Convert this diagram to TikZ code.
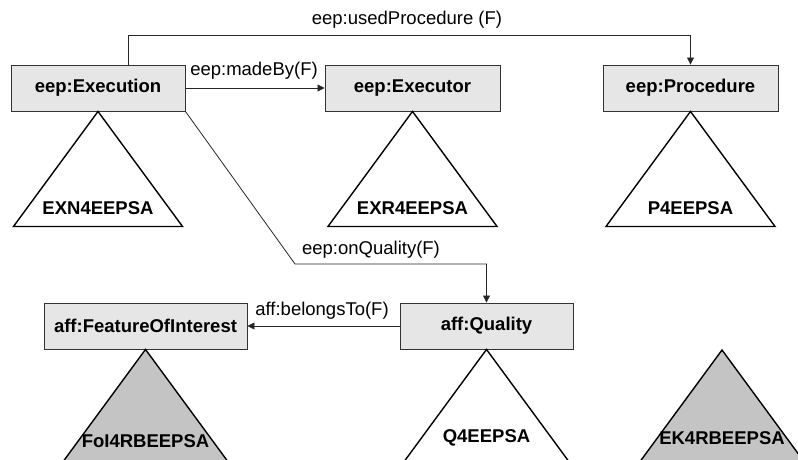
\documentclass[tikz,border=0pt]{standalone}
\usepackage{fontspec}
\setmainfont{Liberation Sans}
\usetikzlibrary{arrows.meta,calc}
\definecolor{boxfill}{HTML}{E6E6E6}
\definecolor{trifill}{HTML}{C4C4C4}

\begin{document}
\begin{tikzpicture}[x=1pt,y=-1pt,
  cls/.style={draw=black!80, line width=0.9pt, fill=boxfill, minimum height=46pt,
    inner sep=0pt, font=\fontsize{18.5}{22}\selectfont\bfseries},
  tri/.style={draw=black, line width=1.4pt, line join=miter},
  trilabel/.style={font=\fontsize{18.5}{22}\selectfont\bfseries, inner sep=0pt},
  rel/.style={draw=black!85, line width=0.8pt, -{Triangle[length=7pt,width=7pt]}},
  rellabel/.style={font=\fontsize{18.5}{22}\selectfont, inner sep=0pt}]

\useasboundingbox (0,0) rectangle (798,460);

% class boxes
\node[cls, minimum width=174pt] (exe)  at (98,88)    {eep:Execution};
\node[cls, minimum width=175pt] (exr)  at (412.5,88) {eep:Executor};
\node[cls, minimum width=175pt] (proc) at (690.5,88) {eep:Procedure};
\node[cls, minimum width=203pt] (foi)  at (145.5,326) {aff:FeatureOfInterest};
\node[cls, minimum width=173pt] (qual) at (486.5,326) {aff:Quality};
\coordinate (ekapex) at (722,350);

% module triangles hanging from the classes
\draw[tri, fill=white] (exe.south)  -- ++(-84.5,115) -- ++(169,0) -- cycle;
\draw[tri, fill=white] (exr.south)  -- ++(-84.5,115) -- ++(169,0) -- cycle;
\draw[tri, fill=white] (proc.south) -- ++(-84.5,115) -- ++(169,0) -- cycle;
\begin{scope}
  \clip (0,0) rectangle (798,460);
  \draw[tri, fill=trifill] (foi.south)  -- ++(-84.5,115) -- ++(169,0) -- cycle;
  \draw[tri, fill=white]   (qual.south) -- ++(-84.5,115) -- ++(169,0) -- cycle;
  \draw[tri, fill=trifill] (ekapex)     -- ++(-84.5,115) -- ++(169,0) -- cycle;
\end{scope}

\node[trilabel] (exnlab) at ($(exe.south)+(0,97)$)  {EXN4EEPSA};
\node[trilabel] (exrlab) at ($(exr.south)+(0,97)$)  {EXR4EEPSA};
\node[trilabel] (plab)   at ($(proc.south)+(0,97)$) {P4EEPSA};
\node[trilabel] (foilab) at ($(foi.south)+(0,92)$)  {FoI4RBEEPSA};
\node[trilabel] (qlab)   at ($(qual.south)+(0,88)$) {Q4EEPSA};
\node[trilabel] (eklab)  at ($(ekapex)+(0,88)$)     {EK4RBEEPSA};

% object properties
\draw[rel] ([xshift=30pt]exe.north) -- ++(0,-29) coordinate (upc) -| (proc.north);
\node[rellabel] (uplab) at (407,20) {eep:usedProcedure (F)};

\draw[rel] (exe.east) -- (exr.west);
\node[rellabel] (mblab) at (254,71) {eep:madeBy(F)};

\coordinate (oqbend) at (295,264);
\draw[rel] (exe.south east) -- (oqbend) -| (qual.north);
\node[rellabel] (oqlab) at (371,250) {eep:onQuality(F)};

\draw[rel] (qual.west) -- (foi.east);
\node[rellabel] (bflab) at (322,311) {aff:belongsTo(F)};
\end{tikzpicture}
\end{document}
